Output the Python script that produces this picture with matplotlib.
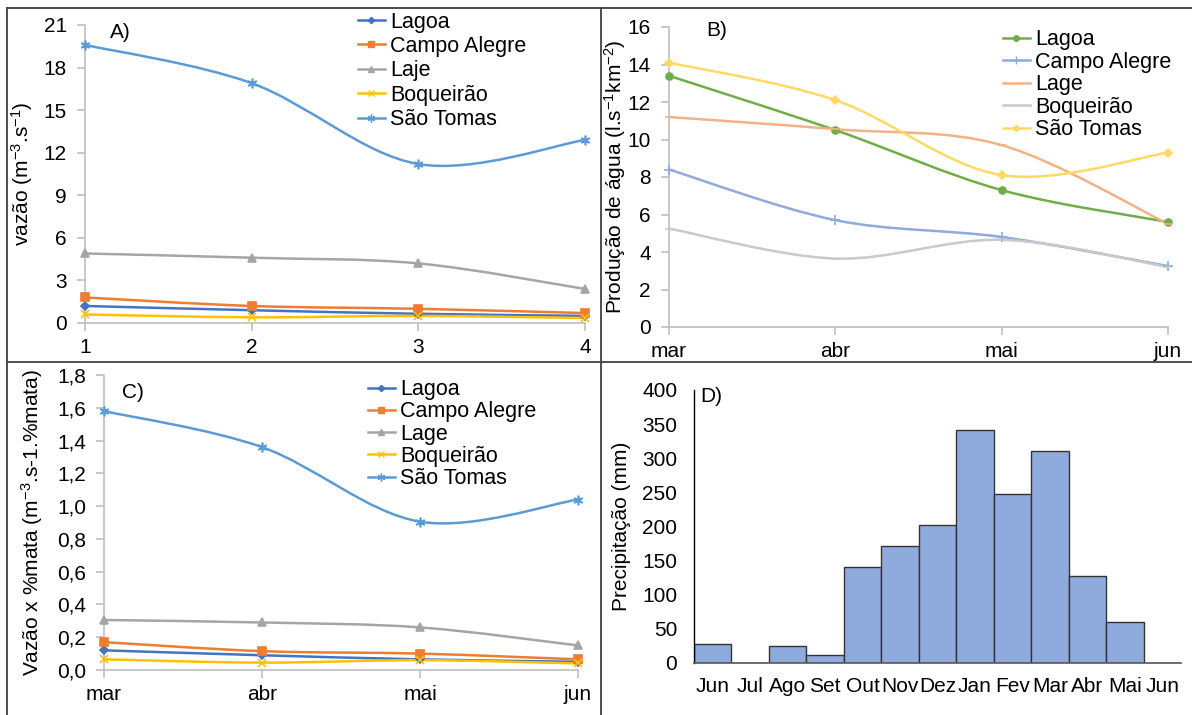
import matplotlib
matplotlib.use('Agg')
import matplotlib.pyplot as plt
import numpy as np
from matplotlib.path import Path
from matplotlib.patches import PathPatch
from matplotlib.lines import Line2D
from matplotlib.ticker import FuncFormatter

plt.rcParams['font.family'] = ['Liberation Sans', 'DejaVu Sans']
plt.rcParams['mathtext.fontset'] = 'custom'
plt.rcParams['mathtext.rm'] = 'Liberation Sans'
plt.rcParams['mathtext.default'] = 'regular'
plt.rcParams['font.size'] = 15

# ---- data ----
meses = ['mar', 'abr', 'mai', 'jun']

# A) vazao (m3/s)
a_x = [1, 2, 3, 4]
a_lagoa = [1.2, 0.9, 0.65, 0.5]
a_campo = [1.8, 1.2, 1.0, 0.7]
a_laje = [4.9, 4.6, 4.2, 2.4]
a_boq = [0.6, 0.4, 0.5, 0.35]
a_sao = [19.6, 16.9, 11.2, 12.9]

# B) producao de agua
b_lagoa = [13.4, 10.5, 7.3, 5.6]
b_campo = [8.4, 5.7, 4.8, 3.25]
b_lage = [11.2, 10.55, 9.7, 5.5]
b_boq = [5.25, 3.65, 4.65, 3.2]
b_sao = [14.1, 12.1, 8.1, 9.3]

# C) vazao x %mata
c_lagoa = [0.12, 0.09, 0.065, 0.05]
c_campo = [0.17, 0.115, 0.10, 0.065]
c_lage = [0.305, 0.29, 0.26, 0.15]
c_boq = [0.065, 0.045, 0.06, 0.04]
c_sao = [1.58, 1.36, 0.905, 1.04]

# D) precipitacao
d_meses = ['Jun', 'Jul', 'Ago', 'Set', 'Out', 'Nov', 'Dez', 'Jan', 'Fev', 'Mar', 'Abr', 'Mai', 'Jun']
d_prec = [28, 0, 25, 12, 141, 172, 202, 342, 248, 310, 128, 60, 0]

W, H = 1192, 715
fig = plt.figure(figsize=(W / 100, H / 100), dpi=100)


def box(l, t, r, b):
    return [l / W, 1 - b / H, (r - l) / W, (b - t) / H]


def smooth(ax, x, y, color, lw=1.8):
    # Excel-like smoothed line: cubic bezier through points
    p = np.column_stack([x, y]).astype(float)
    n = len(p)
    verts = [p[0]]
    codes = [Path.MOVETO]
    for i in range(n - 1):
        p0 = p[i - 1] if i > 0 else p[i]
        p1, p2 = p[i], p[i + 1]
        p3 = p[i + 2] if i + 2 < n else p[i + 1]
        verts += [p1 + (p2 - p0) / 6, p2 - (p3 - p1) / 6, p2]
        codes += [Path.CURVE4] * 3
    ax.add_patch(PathPatch(Path(verts, codes), fill=False, edgecolor=color, lw=lw,
                           capstyle='round', joinstyle='round', zorder=2))


def style_line_axes(ax):
    for s in ['top', 'right']:
        ax.spines[s].set_visible(False)
    for s in ['left', 'bottom']:
        ax.spines[s].set_color('#bfbfbf')
        ax.spines[s].set_linewidth(1.2)
    ax.tick_params(axis='both', colors='#bfbfbf', labelcolor='black', length=6, width=1.2,
                   labelsize=15, direction='out')
    ax.tick_params(axis='y', pad=7)
    ax.tick_params(axis='x', pad=5)


def draw_series(ax, x, series, leg_anchor, spacing):
    handles = []
    for y, name, color, mk, ms in series:
        smooth(ax, x, y, color)
        ax.plot(x, y, linestyle='none', marker=mk, color=color, ms=ms, mew=1.2, zorder=3,
                clip_on=False)
        handles.append(Line2D([], [], color=color, lw=1.8, marker=mk, ms=ms * 0.8, mew=1.0))
    ax.legend(handles, [s[1] for s in series], loc='upper left', bbox_to_anchor=leg_anchor,
              frameon=False, fontsize=15.5, handlelength=1.25, handletextpad=0.25,
              borderpad=0, borderaxespad=0, labelspacing=spacing)


star = (6, 2, 0)

# ---- A ----
axA = fig.add_axes(box(85, 25, 585, 323))
draw_series(axA, a_x, [
    (a_lagoa, 'Lagoa', '#4472c4', 'D', 4),
    (a_campo, 'Campo Alegre', '#ed7d31', 's', 6),
    (a_laje, 'Laje', '#a5a5a5', '^', 6),
    (a_boq, 'Boqueirão', '#ffc000', 'x', 6),
    (a_sao, 'São Tomas', '#5b9bd5', star, 7),
], (0.546, 1.045), 0.16)
axA.set_xlim(1, 4)
axA.set_ylim(0, 21)
axA.set_xticks(a_x)
axA.set_yticks(np.arange(0, 22, 3))
style_line_axes(axA)
axA.set_ylabel('vazão (m$^{-3}$.s$^{-1}$)', fontsize=15)
axA.yaxis.set_label_coords(-0.1, 0.5)
axA.text(0.05, 0.975, 'A)', transform=axA.transAxes, fontsize=15, va='center')

# ---- B ----
xb = np.arange(len(meses))
axB = fig.add_axes(box(669, 27, 1168, 327))
draw_series(axB, xb, [
    (b_lagoa, 'Lagoa', '#70ad47', 'o', 5),
    (b_campo, 'Campo Alegre', '#8faadc', '+', 7),
    (b_lage, 'Lage', '#f4b183', '_', 6),
    (b_boq, 'Boqueirão', '#c9c9c9', '_', 6),
    (b_sao, 'São Tomas', '#ffd966', 'D', 4),
], (0.669, 0.992), 0.07)
axB.set_xlim(0, 3)
axB.set_ylim(0, 16)
axB.set_xticks(xb)
axB.set_xticklabels(meses)
axB.set_yticks(np.arange(0, 17, 2))
style_line_axes(axB)
axB.set_ylabel('Produção de água (l.s$^{-1}$km$^{-2}$)', fontsize=15)
axB.yaxis.set_label_coords(-0.082, 0.5)
axB.text(0.074, 0.99, 'B)', transform=axB.transAxes, fontsize=15, va='center')

# ---- C ----
axC = fig.add_axes(box(104, 375, 578, 670))
draw_series(axC, xb, [
    (c_lagoa, 'Lagoa', '#4472c4', 'D', 4),
    (c_campo, 'Campo Alegre', '#ed7d31', 's', 6),
    (c_lage, 'Lage', '#a5a5a5', '^', 6),
    (c_boq, 'Boqueirão', '#ffc000', 'x', 6),
    (c_sao, 'São Tomas', '#5b9bd5', star, 7),
], (0.557, 0.986), 0.06)
axC.set_xlim(0, 3)
axC.set_ylim(0, 1.8)
axC.set_xticks(xb)
axC.set_xticklabels(meses)
axC.set_yticks(np.arange(0, 1.81, 0.2))
axC.yaxis.set_major_formatter(FuncFormatter(lambda v, p: f'{v:.1f}'.replace('.', ',')))
style_line_axes(axC)
axC.set_ylabel('Vazão x %mata (m$^{-3}$.s-1.%mata)', fontsize=15)
axC.yaxis.set_label_coords(-0.125, 0.5)
axC.text(0.038, 0.94, 'C)', transform=axC.transAxes, fontsize=15, va='center')

# ---- D ----
axD = fig.add_axes(box(694, 390, 1181, 663))
xd = np.arange(len(d_meses))
axD.bar(xd, d_prec, width=1.0, color='#8faadc', edgecolor='#333333', linewidth=1.0)
axD.set_xlim(-0.5, 12.5)
axD.set_ylim(0, 400)
axD.set_xticks(xd)
axD.set_xticklabels(d_meses)
axD.set_yticks(np.arange(0, 401, 50))
for s in ['top', 'right']:
    axD.spines[s].set_visible(False)
axD.spines['left'].set_color('black')
axD.spines['left'].set_linewidth(1.0)
axD.spines['bottom'].set_color('#595959')
axD.spines['bottom'].set_linewidth(1.2)
axD.tick_params(axis='both', length=0, labelsize=15)
axD.tick_params(axis='y', pad=12)
axD.tick_params(axis='x', pad=10)
axD.set_ylabel('Precipitação (mm)', fontsize=15)
axD.yaxis.set_label_coords(-0.13, 0.5)
axD.text(0.012, 0.975, 'D)', transform=axD.transAxes, fontsize=15, va='center')

# ---- panel borders ----
for (x0, y0, x1, y1) in [(7, 8, W, 8), (7, 8, 7, H), (601, 8, 601, H), (7, 362, W, 362)]:
    fig.add_artist(Line2D([x0 / W, x1 / W], [1 - y0 / H, 1 - y1 / H], color='#404040', lw=1.3))

fig.savefig('out.png', dpi=100)
